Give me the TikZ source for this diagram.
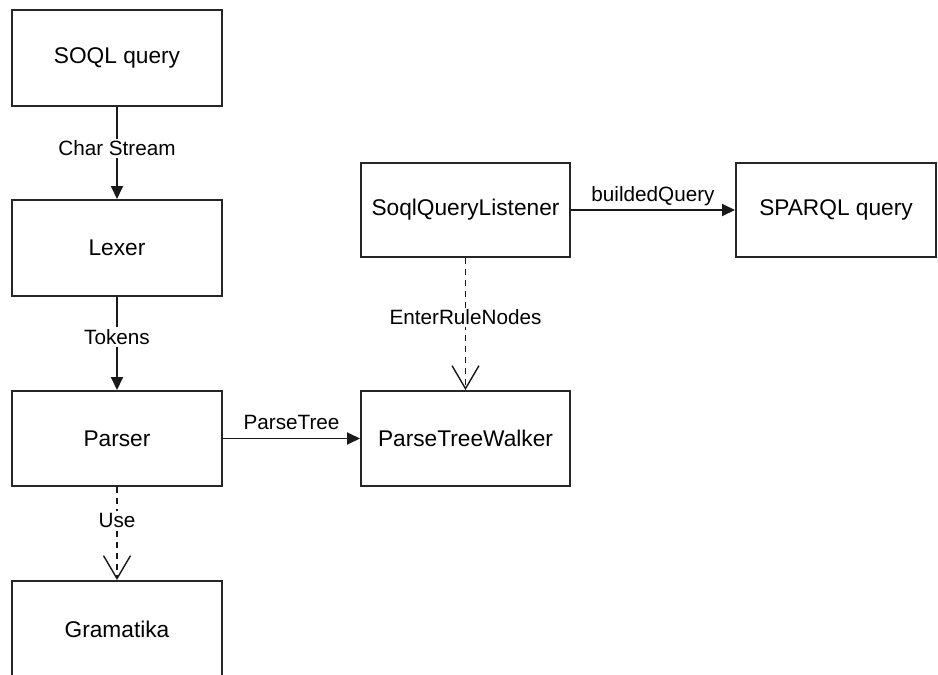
\documentclass[tikz,border=0pt]{standalone}
\usepackage{fontspec}
\setmainfont{Liberation Sans}
\usetikzlibrary{arrows.meta}
\begin{document}
\begin{tikzpicture}[x=1pt,y=1pt,
  box/.style={draw=black!85, line width=2pt, minimum width=210pt, minimum height=96pt, inner sep=0pt, font=\fontsize{22.7}{27}\selectfont},
  lbl/.style={fill=white, inner sep=2pt, font=\fontsize{20.7}{25}\selectfont},
  hlbl/.style={anchor=base, inner sep=0pt, yshift=9pt, font=\fontsize{20.7}{25}\selectfont},
  flow/.style={draw=black!90, line width=1.9pt, -{Triangle[length=13pt,width=12pt]}},
  usearrow/.style={draw=black!90, line width=1.5pt, dash pattern=on 6pt off 5pt, -{Straight Barb[length=23pt,width=27pt,line width=1.4pt]}}]
\useasboundingbox (0,0) rectangle (938,-675);
\fill[white] (0,0) rectangle (938,-675);
\node[box] (soql) at (117,-58) {SOQL query};
\node[box] (lexer) at (117,-248) {Lexer};
\node[box, minimum height=95pt] (parser) at (117,-438.5) {Parser};
\node[box] (gram) at (117,-629) {Gramatika};
\node[box, minimum width=209pt, minimum height=94pt] (listener) at (465.5,-210) {SoqlQueryListener};
\node[box, minimum width=209pt, minimum height=95pt] (walker) at (465.5,-438.5) {ParseTreeWalker};
\node[box, minimum width=200pt, minimum height=94pt] (sparql) at (836,-210) {SPARQL query};
\draw[flow] (soql) -- node[lbl, pos=0.447] {Char Stream} (lexer);
\draw[flow] (lexer) -- node[lbl, pos=0.43] {Tokens} (parser);
\draw[usearrow] (parser) -- node[lbl, pos=0.36] {Use} (gram);
\draw[flow] (parser) -- node[hlbl] {ParseTree} (walker);
\draw[flow] (listener) -- node[hlbl] {buildedQuery} (sparql);
\draw[usearrow] (listener) -- node[lbl, pos=0.45] {EnterRuleNodes} (walker);
\end{tikzpicture}
\end{document}
